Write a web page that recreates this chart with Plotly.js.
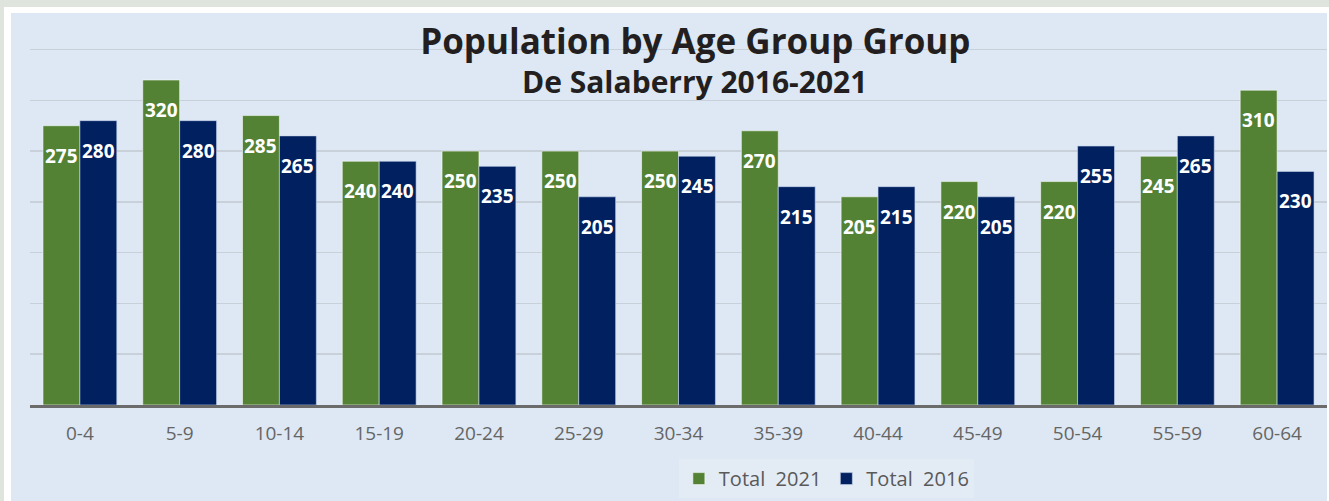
<!DOCTYPE html>
<html><head><meta charset="utf-8">
<script src="https://cdn.plot.ly/plotly-3.0.1.min.js"></script>
<style>
html,body{margin:0;padding:0;background:#dfe4dd;width:1329px;height:501px;overflow:hidden;}
#frame{position:absolute;left:4px;top:7px;width:1325px;height:494px;background:#ffffff;}
#chart{position:absolute;left:11px;top:13px;width:1316px;height:488px;}
</style></head>
<body><div id="frame"></div><div id="chart"></div>
<script>
const ageGroups = ["0-4","5-9","10-14","15-19","20-24","25-29","30-34","35-39","40-44","45-49","50-54","55-59","60-64"];
const total2021 = [275,320,285,240,250,250,250,270,205,220,220,245,310];
const total2016 = [280,280,265,240,235,205,245,215,215,205,255,265,230];
const seriesNames = ["Total  2021","Total  2016"];
const titleText = "Population by Age Group Group";
const subtitleText = "De Salaberry 2016-2021";

const FONT = "'Open Sans', 'Noto Sans', sans-serif";
const green = "#548235", navy = "#002060";

const traces = [
  {type:"bar", x:ageGroups, y:total2021, name:seriesNames[0],
   marker:{color:green, line:{color:"rgba(255,255,255,0.55)", width:1}}, hoverinfo:"skip"},
  {type:"bar", x:ageGroups, y:total2016, name:seriesNames[1],
   marker:{color:navy, line:{color:"rgba(200,215,235,0.6)", width:1}}, hoverinfo:"skip"}
];

const annotations = [];
ageGroups.forEach((g,i)=>{
  [[total2021,-18.5],[total2016,18.5]].forEach(([arr,dx])=>{
    annotations.push({x:g, y:arr[i], xref:"x", yref:"y", text:"<b>"+arr[i]+"</b>",
      showarrow:false, xshift:dx, yshift:-30, font:{family:FONT, size:19, color:"#ffffff"}});
  });
});
annotations.push({x:0.512, y:0.8265, xref:"paper", yref:"paper", xanchor:"center", yanchor:"middle",
  text:"<b>"+subtitleText+"</b>", showarrow:false, font:{family:FONT, size:30, color:"#231f20"}});

const layout = {
  width:1316, height:488,
  margin:{l:19, r:0, t:0, b:96},
  paper_bgcolor:"#dde8f4", plot_bgcolor:"#dde8f4",
  title:{text:"<b>"+titleText+"</b>", font:{family:FONT, size:35, color:"#231f20"},
    x:0.513, xanchor:"center", y:0.9406, yanchor:"middle", xref:"paper", yref:"container"},
  barmode:"group", bargap:0.26, bargroupgap:0,
  xaxis:{type:"category", showgrid:false, showline:true, linecolor:"#6b6b6b", linewidth:3,
    ticks:"outside", ticklen:9, tickcolor:"rgba(0,0,0,0)",
    tickfont:{family:FONT, size:19, color:"#656565"}, fixedrange:true},
  yaxis:{range:[0,386], dtick:50, tick0:0, showgrid:true, gridcolor:"#c8d0d9", gridwidth:1.5,
    showticklabels:false, zeroline:false, fixedrange:true},
  showlegend:true,
  legend:{orientation:"h", x:0.614, xanchor:"center", y:-0.138, yanchor:"top",
    bgcolor:"#e3ebf5", font:{family:FONT, size:20, color:"#595959"}, traceorder:"normal"},
  annotations:annotations
};
Plotly.newPlot("chart", traces, layout, {displayModeBar:false, staticPlot:true});
</script></body></html>
